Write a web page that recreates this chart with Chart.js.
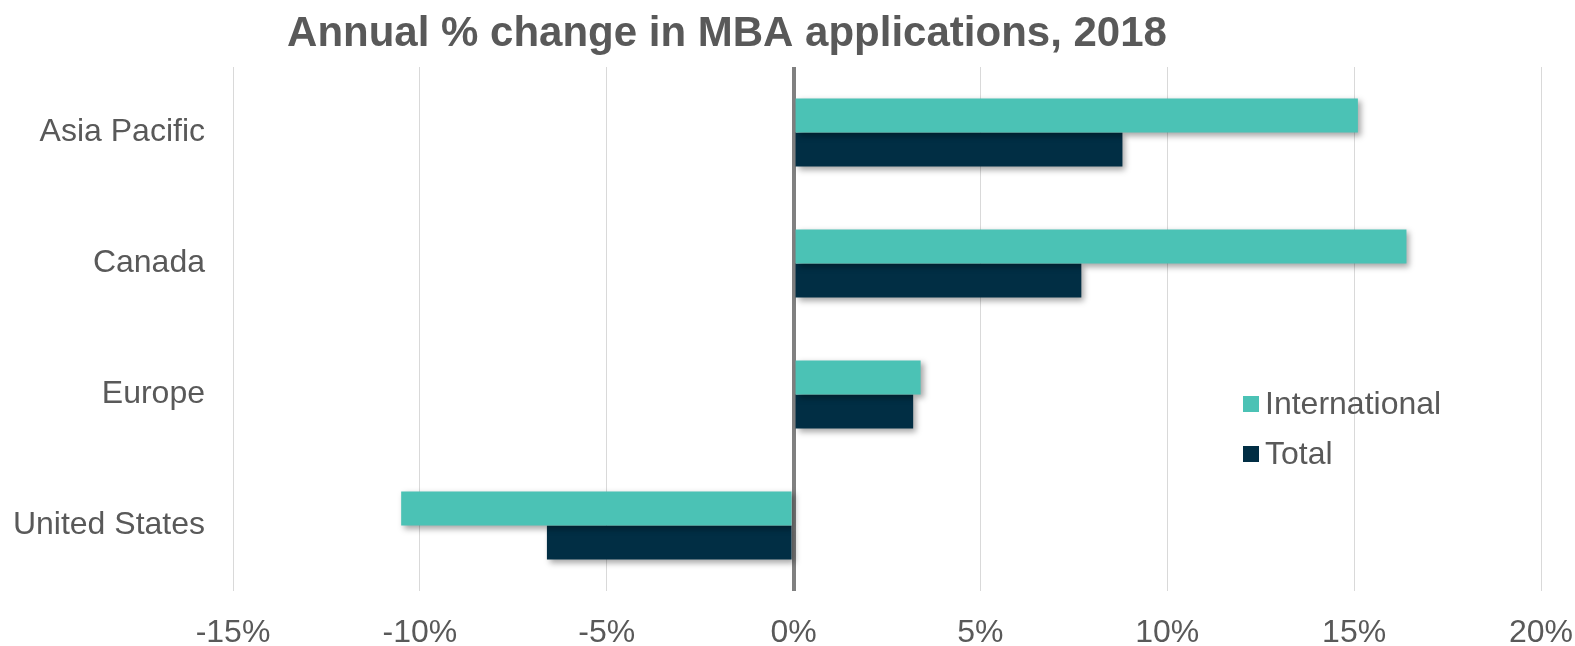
<!DOCTYPE html>
<html>
<head>
<meta charset="utf-8">
<script src="https://cdn.jsdelivr.net/npm/chart.js@4.4.1/dist/chart.umd.min.js"></script>
<style>
  html, body { margin: 0; padding: 0; background: #fff; }
  #wrap { width: 1575px; height: 646px; }
</style>
</head>
<body>
<div id="wrap"><canvas id="myChart" width="1575" height="646"></canvas></div>
<script>
const regions = ['Asia Pacific', 'Canada', 'Europe', 'United States'];
const international = [15.1, 16.4, 3.4, -10.5];
const total = [8.8, 7.7, 3.2, -6.6];
const xTicks = [-15, -10, -5, 0, 5, 10, 15, 20];

const titleText = 'Annual % change in MBA applications, 2018';
const textGrey = '#595959';
const fontFamily = '"Liberation Sans", Arial, sans-serif';

// bar drop shadow
const shadowPlugin = {
    id: 'barShadow',
    beforeDatasetsDraw(chart) {
        const c = chart.ctx;
        c.save();
        c.shadowColor = 'rgba(0,0,0,0.35)';
        c.shadowBlur = 6;
        c.shadowOffsetX = 3;
        c.shadowOffsetY = 3;
    },
    afterDatasetsDraw(chart) {
        chart.ctx.restore();
    }
};

// title + legend drawn by hand so they sit where the original has them
const decorPlugin = {
    id: 'decor',
    afterDraw(chart) {
        const c = chart.ctx;
        c.save();
        c.fillStyle = textGrey;
        c.font = 'bold 42px ' + fontFamily;
        c.textAlign = 'center';
        c.textBaseline = 'alphabetic';
        c.fillText(titleText, 727, 46);

        c.font = '32px ' + fontFamily;
        c.textAlign = 'left';
        c.textBaseline = 'middle';
        const rows = [404, 454];
        chart.data.datasets.forEach((ds, i) => {
            c.fillStyle = ds.backgroundColor;
            c.fillRect(1243, rows[i] - 8, 16, 16);
            c.fillStyle = textGrey;
            c.fillText(ds.label, 1265, rows[i] + 1);
        });
        c.restore();
    }
};

new Chart(document.getElementById('myChart'), {
    type: 'bar',
    data: {
        labels: regions,
        datasets: [{
            label: 'International',
            data: international,
            backgroundColor: '#4BC2B5'
        }, {
            label: 'Total',
            data: total,
            backgroundColor: '#012E44'
        }]
    },
    options: {
        indexAxis: 'y',
        responsive: false,
        animation: false,
        categoryPercentage: 0.52,
        barPercentage: 1,
        layout: { padding: { top: 67, right: 34, left: 0, bottom: 0 } },
        plugins: {
            legend: { display: false },
            title: { display: false },
            tooltip: { enabled: false }
        },
        scales: {
            x: {
                min: -15,
                max: 20,
                afterBuildTicks: (scale) => { scale.ticks = xTicks.map(v => ({ value: v })); },
                afterFit: (scale) => {
                    scale.height = 55;
                    scale.paddingLeft = 0;
                    scale.paddingRight = 0;
                },
                border: { display: false },
                grid: {
                    color: (ctx) => ctx.tick && ctx.tick.value === 0 ? '#808080' : '#d9d9d9',
                    lineWidth: (ctx) => ctx.tick && ctx.tick.value === 0 ? 4 : 1,
                    drawTicks: false
                },
                ticks: {
                    padding: 23,
                    maxRotation: 0,
                    color: textGrey,
                    font: { size: 32, family: fontFamily },
                    callback: (v) => v + '%'
                }
            },
            y: {
                afterFit: (scale) => {
                    scale.width = 233;
                    scale.paddingTop = 0;
                    scale.paddingBottom = 0;
                },
                border: { display: false },
                grid: { display: false, drawTicks: false },
                ticks: {
                    padding: 28,
                    color: textGrey,
                    font: { size: 32, family: fontFamily }
                }
            }
        }
    },
    plugins: [shadowPlugin, decorPlugin]
});
</script>
</body>
</html>
